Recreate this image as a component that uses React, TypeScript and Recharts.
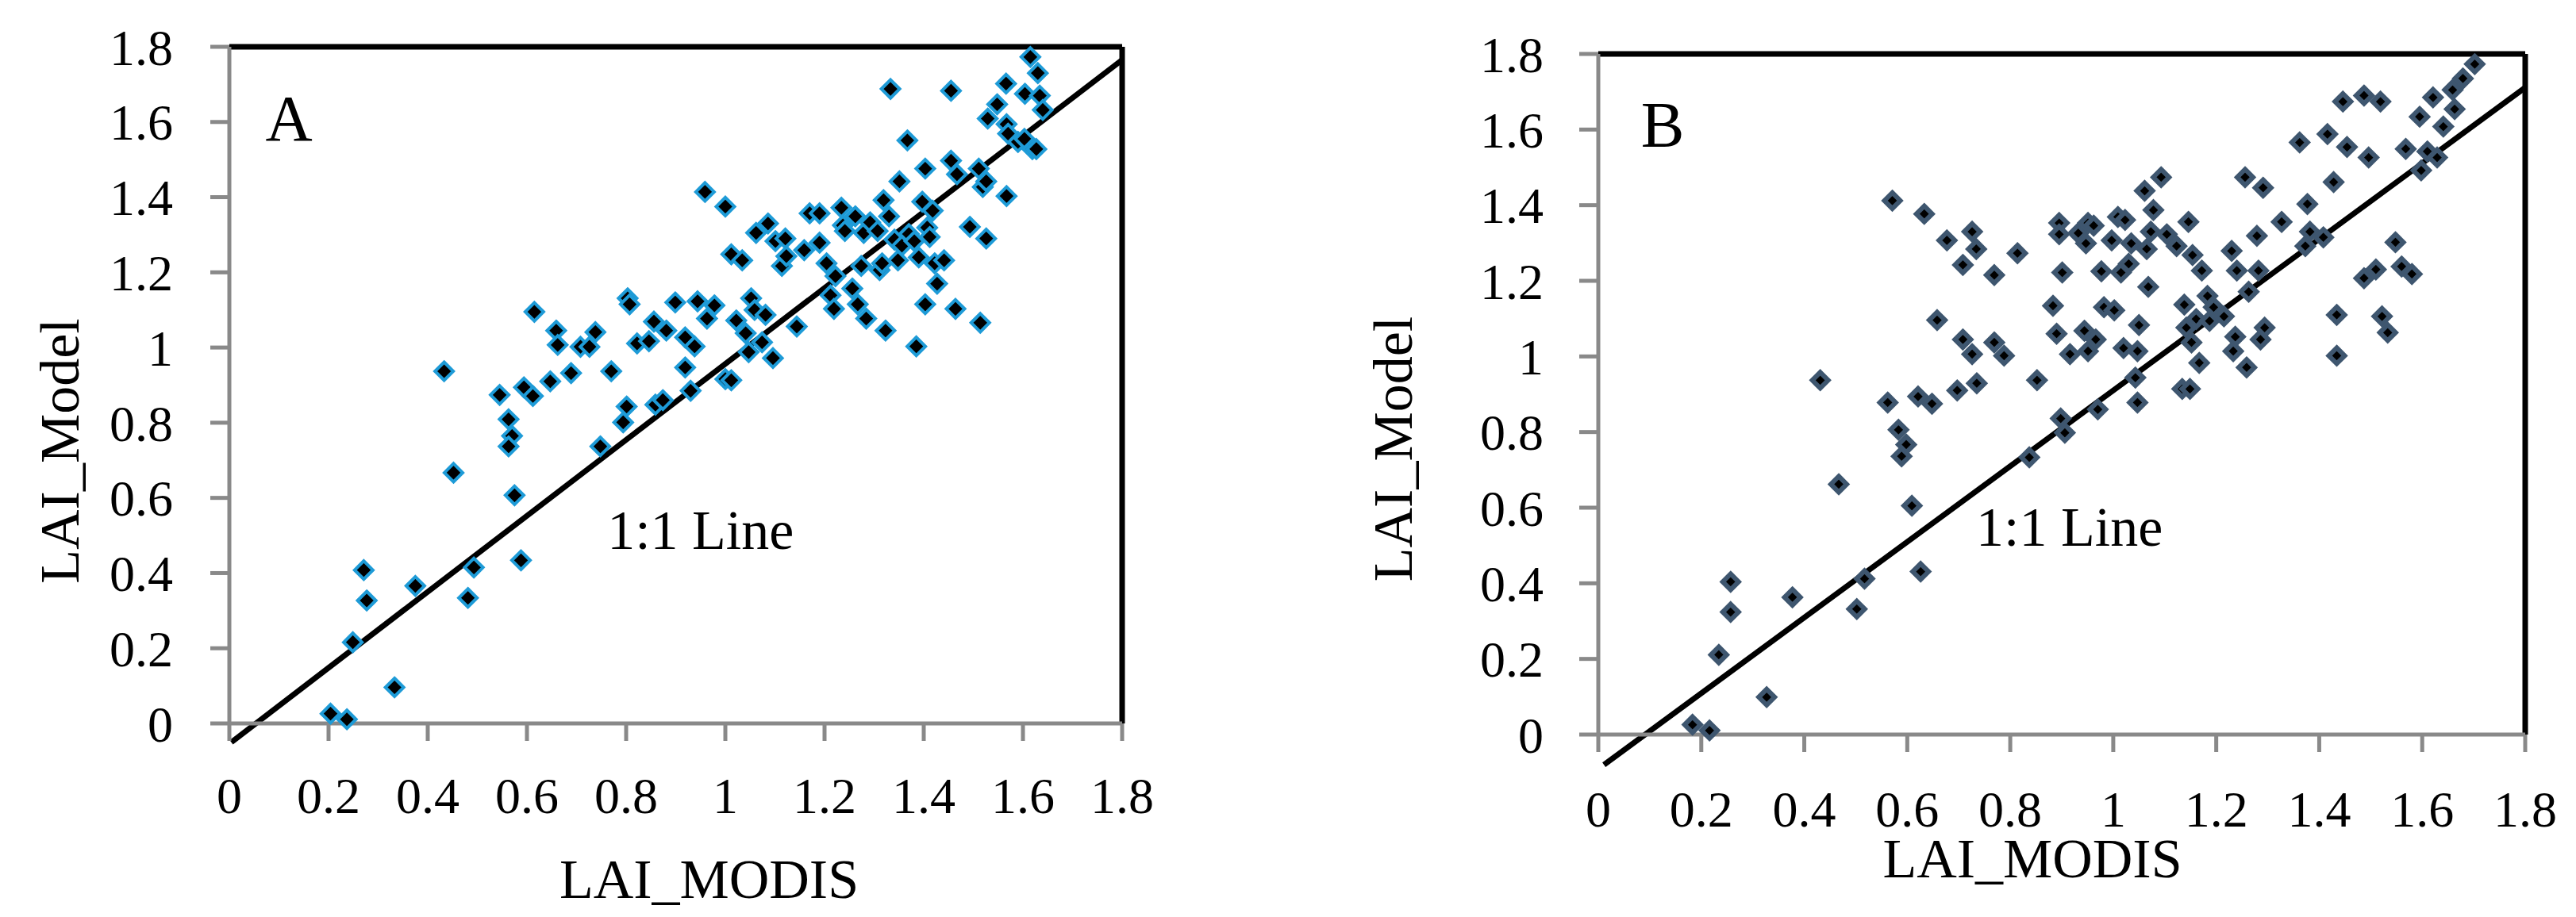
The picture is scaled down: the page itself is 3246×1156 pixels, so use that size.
import {
  ScatterChart,
  Scatter,
  XAxis,
  YAxis,
  ReferenceLine,
  ReferenceDot,
  Label,
} from 'recharts'

const FONT = '"Liberation Serif", "Times New Roman", serif'
const AXIS_GRAY = '#898989'

const ticks = [0, 0.2, 0.4, 0.6, 0.8, 1, 1.2, 1.4, 1.6, 1.8]

// panel A (LAI_MODIS vs LAI_Model)
const modisA = [
  0.204, 0.237, 0.333, 0.249, 0.271, 0.277, 0.375, 0.481, 0.493, 0.588,
  0.433, 0.452, 0.545, 0.563, 0.57, 0.563, 0.575, 0.594, 0.612, 0.615,
  0.647, 0.659, 0.662, 0.689, 0.708, 0.726, 0.738, 0.748, 0.77, 0.794,
  0.801, 0.803, 0.807, 0.822, 0.846, 0.856, 0.859, 0.874, 0.881, 0.899,
  0.919, 0.919, 0.93, 0.938, 0.944, 0.959, 0.963, 0.978, 1.0, 1.0,
  1.012, 1.012, 1.022, 1.034, 1.041, 1.047, 1.052, 1.059, 1.062, 1.074,
  1.081, 1.086, 1.096, 1.101, 1.114, 1.121, 1.123, 1.144, 1.159, 1.17,
  1.19, 1.19, 1.204, 1.212, 1.219, 1.222, 1.234, 1.237, 1.241, 1.256,
  1.262, 1.267, 1.274, 1.279, 1.284, 1.292, 1.307, 1.311, 1.316, 1.319,
  1.323, 1.33, 1.333, 1.341, 1.348, 1.351, 1.356, 1.367, 1.37, 1.381,
  1.385, 1.39, 1.397, 1.403, 1.403, 1.407, 1.412, 1.418, 1.422, 1.427,
  1.441, 1.455, 1.455, 1.464, 1.467, 1.493, 1.511, 1.514, 1.519, 1.526,
  1.529, 1.526, 1.548, 1.566, 1.567, 1.567, 1.57, 1.59, 1.603, 1.604,
  1.615, 1.619, 1.627, 1.63, 1.634, 1.64,
]
const modelA = [
  0.026, 0.011, 0.096, 0.216, 0.408, 0.327, 0.366, 0.334, 0.415, 0.434,
  0.937, 0.667, 0.874, 0.809, 0.765, 0.737, 0.607, 0.894, 0.871, 1.095,
  0.91, 1.045, 1.007, 0.932, 1.002, 1.002, 1.041, 0.737, 0.937, 0.801,
  0.843, 1.131, 1.115, 1.011, 1.017, 1.069, 0.848, 0.86, 1.045, 1.12,
  1.027, 0.947, 0.885, 1.003, 1.123, 1.414, 1.077, 1.112, 1.375, 0.916,
  0.913, 1.248, 1.072, 1.232, 1.038, 0.988, 1.131, 1.1, 1.305, 1.014,
  1.087, 1.33, 0.972, 1.283, 1.217, 1.29, 1.243, 1.056, 1.259, 1.357,
  1.357, 1.279, 1.224, 1.139, 1.103, 1.19, 1.372, 1.325, 1.31, 1.157,
  1.349, 1.115, 1.217, 1.305, 1.077, 1.333, 1.31, 1.206, 1.224, 1.392,
  1.045, 1.349, 1.688, 1.287, 1.232, 1.442, 1.271, 1.551, 1.302, 1.283,
  1.003, 1.24, 1.388, 1.476, 1.115, 1.319, 1.294, 1.364, 1.224, 1.17,
  1.232, 1.683, 1.497, 1.103, 1.461, 1.321, 1.476, 1.066, 1.427, 1.29,
  1.609, 1.442, 1.647, 1.702, 1.594, 1.403, 1.569, 1.547, 1.555, 1.675,
  1.773, 1.528, 1.528, 1.73, 1.67, 1.632,
]
const lineA = [
  { x: 0.004, y: -0.05 },
  { x: 1.8, y: 1.765 },
]

// panel B
const modisB = [
  0.183, 0.216, 0.327, 0.234, 0.257, 0.257, 0.377, 0.502, 0.517, 0.626,
  0.431, 0.467, 0.562, 0.583, 0.598, 0.589, 0.609, 0.571, 0.621, 0.648,
  0.633, 0.658, 0.677, 0.697, 0.708, 0.708, 0.726, 0.726, 0.734, 0.735,
  0.769, 0.769, 0.788, 0.814, 0.837, 0.852, 0.883, 0.89, 0.895, 0.895,
  0.898, 0.901, 0.906, 0.916, 0.932, 0.944, 0.947, 0.951, 0.951, 0.962,
  0.966, 0.97, 0.977, 0.982, 0.997, 1.002, 1.009, 1.015, 1.02, 1.023,
  1.03, 1.035, 1.043, 1.047, 1.047, 1.05, 1.061, 1.065, 1.068, 1.073,
  1.078, 1.093, 1.104, 1.123, 1.134, 1.138, 1.142, 1.146, 1.149, 1.152,
  1.154, 1.161, 1.167, 1.172, 1.183, 1.187, 1.195, 1.215, 1.23, 1.233,
  1.237, 1.24, 1.256, 1.259, 1.263, 1.279, 1.282, 1.286, 1.291, 1.294,
  1.327, 1.362, 1.373, 1.377, 1.382, 1.408, 1.416, 1.428, 1.434, 1.434,
  1.446, 1.454, 1.487, 1.487, 1.496, 1.51, 1.519, 1.522, 1.533, 1.548,
  1.56, 1.568, 1.58, 1.595, 1.598, 1.61, 1.621, 1.629, 1.641, 1.659,
  1.663, 1.679, 1.702,
]
const modelB = [
  0.026, 0.011, 0.099, 0.211, 0.404, 0.324, 0.363, 0.332, 0.412, 0.431,
  0.937, 0.662, 0.878, 0.806, 0.767, 0.736, 0.605, 1.412, 0.894, 0.875,
  1.377, 1.096, 1.307, 0.91, 1.045, 1.242, 1.33, 1.006, 1.284, 0.929,
  1.037, 1.215, 1.002, 1.273, 0.733, 0.937, 1.134, 1.06, 1.353, 1.323,
  0.836, 1.222, 0.798, 1.006, 1.326, 1.068, 1.299, 1.353, 1.014, 1.346,
  1.045, 0.86, 1.225, 1.13, 1.307, 1.122, 1.369, 1.222, 1.022, 1.361,
  1.245, 1.299, 0.944, 1.014, 0.878, 1.083, 1.438, 1.284, 1.184, 1.33,
  1.387, 1.474, 1.323, 1.292, 0.914, 1.137, 1.076, 1.356, 0.914, 1.037,
  1.268, 1.099, 0.983, 1.227, 1.16, 1.094, 1.13, 1.106, 1.279, 1.014,
  1.052, 1.227, 1.474, 0.971, 1.171, 1.319, 1.227, 1.045, 1.446, 1.076,
  1.356, 1.566, 1.292, 1.403, 1.33, 1.315, 1.588, 1.461, 1.11, 1.002,
  1.674, 1.554, 1.69, 1.207, 1.526, 1.23, 1.674, 1.106, 1.063, 1.302,
  1.238, 1.549, 1.218, 1.634, 1.492, 1.542, 1.685, 1.526, 1.608, 1.705,
  1.654, 1.735, 1.773,
]
const lineB = [
  { x: 0.011, y: -0.08 },
  { x: 1.8, y: 1.711 },
]

const toPoints = (xs: number[], ys: number[]) =>
  xs.map((x, i) => ({ x, y: ys[i] }))

const makeDiamond = (half: number, stroke: string, strokeWidth: number) =>
  (props: any) => {
    const { cx, cy } = props
    if (cx == null || cy == null) return <g />
    const d = `M${cx},${cy - half}L${cx + half},${cy}L${cx},${cy + half}L${cx - half},${cy}Z`
    return <path d={d} fill="#000" stroke={stroke} strokeWidth={strokeWidth} strokeLinejoin="miter" />
  }

const YTitle = ({ viewBox, left, shift }: any) => {
  const cy = viewBox.y + viewBox.height / 2 + shift
  return (
    <text
      x={left}
      y={cy}
      transform={`rotate(-90 ${left} ${cy})`}
      textAnchor="middle"
      dominantBaseline="central"
      fontFamily={FONT}
      fontSize={70}
      fill="#000"
    >
      LAI_Model
    </text>
  )
}

type PanelProps = {
  width: number
  height: number
  margin: { top: number; right: number; bottom: number; left: number }
  points: { x: number; y: number }[]
  line: { x: number; y: number }[]
  letter: { x: number; y: number; text: string }
  note: { x: number; y: number }
  shape: (p: any) => JSX.Element
  xTickMargin: number
  yTickMargin: number
  xTitleOffset: number
  xTitleDx: number
  yTitleLeft: number
  yTitleShift: number
}

const Panel = (p: PanelProps) => (
  <ScatterChart width={p.width} height={p.height} margin={p.margin}>
    <XAxis
      type="number"
      dataKey="x"
      domain={[0, 1.8]}
      ticks={ticks}
      interval={0}
      height={100}
      tickSize={22}
      tickMargin={p.xTickMargin}
      axisLine={{ stroke: AXIS_GRAY, strokeWidth: 5 }}
      tickLine={{ stroke: AXIS_GRAY, strokeWidth: 5 }}
      tick={{ fill: '#000', fontSize: 64, fontFamily: FONT }}
    >
      <Label
        value="LAI_MODIS"
        position="bottom"
        offset={p.xTitleOffset}
        dx={p.xTitleDx}
        fill="#000"
        fontSize={70}
        fontFamily={FONT}
      />
    </XAxis>
    <YAxis
      type="number"
      dataKey="y"
      domain={[0, 1.8]}
      ticks={ticks}
      interval={0}
      width={100}
      tickSize={24}
      tickMargin={p.yTickMargin}
      axisLine={{ stroke: AXIS_GRAY, strokeWidth: 5 }}
      tickLine={{ stroke: AXIS_GRAY, strokeWidth: 5 }}
      tick={{ fill: '#000', fontSize: 64, fontFamily: FONT }}
    >
      <Label
        content={(lp: any) => (
          <YTitle viewBox={lp.viewBox} left={p.yTitleLeft} shift={p.yTitleShift} />
        )}
      />
    </YAxis>
    <ReferenceLine y={1.8} stroke="#000" strokeWidth={7} ifOverflow="visible" />
    <ReferenceLine x={1.8} stroke="#000" strokeWidth={7} ifOverflow="visible" />
    <Scatter data={p.points} shape={p.shape} isAnimationActive={false} />
    <ReferenceLine
      segment={p.line}
      stroke="#000"
      strokeWidth={7}
      ifOverflow="visible"
    />
    <ReferenceDot
      x={p.letter.x}
      y={p.letter.y}
      r={0}
      fill="none"
      stroke="none"
      ifOverflow="visible"
      label={{
        value: p.letter.text,
        position: 'center',
        fontSize: 82,
        fontFamily: FONT,
        fill: '#000',
      }}
    />
    <ReferenceDot
      x={p.note.x}
      y={p.note.y}
      r={0}
      fill="none"
      stroke="none"
      ifOverflow="visible"
      label={{
        value: '1:1 Line',
        position: 'center',
        fontSize: 70,
        fontFamily: FONT,
        fill: '#000',
      }}
    />
  </ScatterChart>
)

const diamondA = makeDiamond(11.5, '#1E9BD7', 4)
const diamondB = makeDiamond(10, '#3E566F', 6)

export default function App() {
  return (
    <div
      style={{
        position: 'absolute',
        left: 0,
        top: 0,
        width: 3246,
        height: 1156,
        background: '#fff',
      }}
    >
      <div style={{ position: 'absolute', left: 0, top: 0 }}>
        <Panel
          width={1500}
          height={1156}
          margin={{ top: 59, right: 86, bottom: 144, left: 189 }}
          points={toPoints(modisA, modelA)}
          line={lineA}
          letter={{ x: 0.12, y: 1.613, text: 'A' }}
          note={{ x: 0.95, y: 0.516 }}
          shape={diamondA}
          xTickMargin={46}
          yTickMargin={47}
          xTitleOffset={70}
          xTitleDx={42}
          yTitleLeft={75}
          yTitleShift={83}
        />
      </div>
      <div style={{ position: 'absolute', left: 1623, top: 0 }}>
        <Panel
          width={1623}
          height={1156}
          margin={{ top: 68, right: 64, bottom: 130, left: 291 }}
          points={toPoints(modisB, modelB)}
          line={lineB}
          letter={{ x: 0.125, y: 1.615, text: 'B' }}
          note={{ x: 0.915, y: 0.551 }}
          shape={diamondB}
          xTickMargin={49}
          yTickMargin={45}
          xTitleOffset={30}
          xTitleDx={-37}
          yTitleLeft={132}
          yTitleShift={69}
        />
      </div>
    </div>
  )
}
